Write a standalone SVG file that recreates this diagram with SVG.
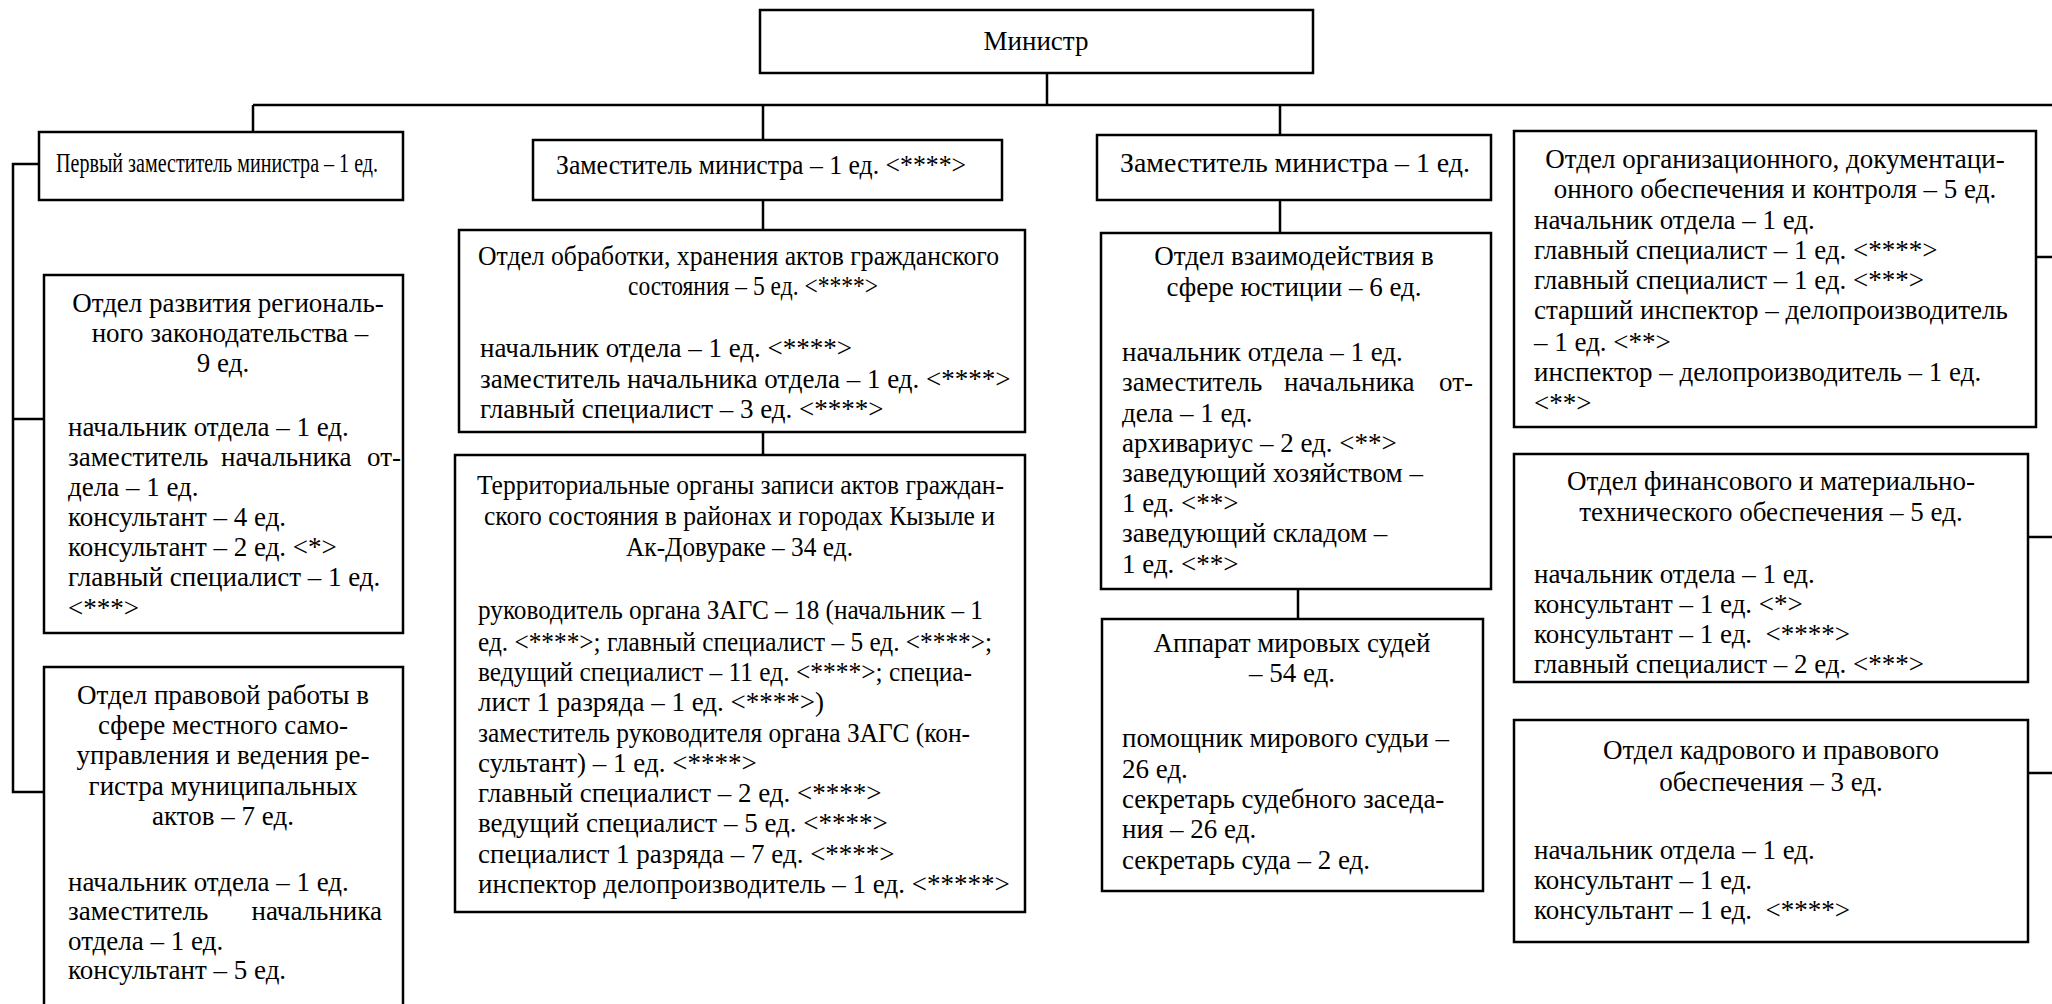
<svg xmlns="http://www.w3.org/2000/svg" width="2052" height="1004" viewBox="0 0 2052 1004">
<style>
.box{fill:#fff;stroke:#000;stroke-width:2.5}
.ln{stroke:#000;stroke-width:2.5;fill:none}
text{font-family:"Liberation Serif","Times New Roman",serif;font-size:27px;fill:#000}
.c{text-anchor:middle}
.e{text-anchor:end}
</style>
<rect width="2052" height="1004" fill="#fff"/>
<g id="connectors">
<path class="ln" d="M1047 73V105M253 105H2052M253 105V132M763 105V140M1280 105V135"/>
<path class="ln" d="M39 164H13V792H44M13 419H44"/>
<path class="ln" d="M763 200V230M763 432V455"/>
<path class="ln" d="M1280 200V233M1298 589V619"/>
<path class="ln" d="M2036 257H2052M2028 537H2052M2028 773H2052"/>
</g>
<g id="minister">
<rect class="box" x="760" y="10" width="553" height="63"/>
<text class="c" x="1036" y="50">Министр</text>
</g>
<g id="first-deputy">
<rect class="box" x="39" y="132" width="364" height="68"/>
<text x="56" y="172" textLength="322" lengthAdjust="spacingAndGlyphs">Первый заместитель министра – 1 ед.</text>
</g>
<g id="deputy-1">
<rect class="box" x="533" y="140" width="469" height="60"/>
<text x="556" y="174" textLength="410" lengthAdjust="spacingAndGlyphs">Заместитель министра – 1 ед. &lt;****&gt;</text>
</g>
<g id="deputy-2">
<rect class="box" x="1097" y="135" width="394" height="65"/>
<text x="1120" y="172" textLength="350" lengthAdjust="spacingAndGlyphs">Заместитель министра – 1 ед.</text>
</g>
<g id="dept-org">
<rect class="box" x="1514" y="131" width="522" height="296"/>
<text class="c" x="1775" y="168">Отдел организационного, документаци-</text>
<text class="c" x="1775" y="198">онного обеспечения и контроля – 5 ед.</text>
<text x="1534" y="229">начальник отдела – 1 ед.</text>
<text x="1534" y="259">главный специалист – 1 ед. &lt;****&gt;</text>
<text x="1534" y="289">главный специалист – 1 ед. &lt;***&gt;</text>
<text x="1534" y="319">старший инспектор – делопроизводитель</text>
<text x="1534" y="351">– 1 ед. &lt;**&gt;</text>
<text x="1534" y="381">инспектор – делопроизводитель – 1 ед.</text>
<text x="1534" y="412">&lt;**&gt;</text>
</g>
<g id="dept-regional">
<rect class="box" x="44" y="275" width="359" height="358"/>
<text class="c" x="228" y="312">Отдел развития региональ-</text>
<text class="c" x="230" y="342">ного законодательства –</text>
<text class="c" x="223" y="372">9 ед.</text>
<text x="68" y="436">начальник отдела – 1 ед.</text>
<text x="68" y="466">заместитель</text>
<text x="221" y="466">начальника</text>
<text class="e" x="401" y="466">от-</text>
<text x="68" y="496">дела – 1 ед.</text>
<text x="68" y="526">консультант – 4 ед.</text>
<text x="68" y="556">консультант – 2 ед. &lt;*&gt;</text>
<text x="68" y="586">главный специалист – 1 ед.</text>
<text x="68" y="617">&lt;***&gt;</text>
</g>
<g id="dept-legal-local">
<rect class="box" x="44" y="667" width="359" height="400"/>
<text class="c" x="223" y="704">Отдел правовой работы в</text>
<text class="c" x="223" y="734">сфере местного само-</text>
<text class="c" x="223" y="764">управления и ведения ре-</text>
<text class="c" x="223" y="795">гистра муниципальных</text>
<text class="c" x="223" y="825">актов – 7 ед.</text>
<text x="68" y="891">начальник отдела – 1 ед.</text>
<text x="68" y="920">заместитель</text>
<text class="e" x="382" y="920">начальника</text>
<text x="68" y="950">отдела – 1 ед.</text>
<text x="68" y="979">консультант – 5 ед.</text>
</g>
<g id="dept-civil-acts">
<rect class="box" x="459" y="230" width="566" height="202"/>
<text x="478" y="265" textLength="521" lengthAdjust="spacingAndGlyphs">Отдел обработки, хранения актов гражданского</text>
<text x="628" y="295" textLength="250" lengthAdjust="spacingAndGlyphs">состояния – 5 ед. &lt;****&gt;</text>
<text x="480" y="357">начальник отдела – 1 ед. &lt;****&gt;</text>
<text x="480" y="388">заместитель начальника отдела – 1 ед. &lt;****&gt;</text>
<text x="480" y="418">главный специалист – 3 ед. &lt;****&gt;</text>
</g>
<g id="territorial-zags">
<rect class="box" x="455" y="455" width="570" height="457"/>
<text x="477" y="494" textLength="527" lengthAdjust="spacingAndGlyphs">Территориальные органы записи актов граждан-</text>
<text x="484" y="525" textLength="511" lengthAdjust="spacingAndGlyphs">ского состояния в районах и городах Кызыле и</text>
<text x="626" y="556" textLength="227" lengthAdjust="spacingAndGlyphs">Ак-Довураке – 34 ед.</text>
<text x="478" y="619" textLength="505" lengthAdjust="spacingAndGlyphs">руководитель органа ЗАГС – 18 (начальник – 1</text>
<text x="478" y="651" textLength="514" lengthAdjust="spacingAndGlyphs">ед. &lt;****&gt;; главный специалист – 5 ед. &lt;****&gt;;</text>
<text x="478" y="681" textLength="494" lengthAdjust="spacingAndGlyphs">ведущий специалист – 11 ед. &lt;****&gt;; специа-</text>
<text x="478" y="711">лист 1 разряда – 1 ед. &lt;****&gt;)</text>
<text x="478" y="742" textLength="492" lengthAdjust="spacingAndGlyphs">заместитель руководителя органа ЗАГС (кон-</text>
<text x="478" y="772">сультант) – 1 ед. &lt;****&gt;</text>
<text x="478" y="802">главный специалист – 2 ед. &lt;****&gt;</text>
<text x="478" y="832">ведущий специалист – 5 ед. &lt;****&gt;</text>
<text x="478" y="863">специалист 1 разряда – 7 ед. &lt;****&gt;</text>
<text x="478" y="893">инспектор делопроизводитель – 1 ед. &lt;*****&gt;</text>
</g>
<g id="dept-justice">
<rect class="box" x="1101" y="233" width="390" height="356"/>
<text class="c" x="1294" y="265">Отдел взаимодействия в</text>
<text class="c" x="1294" y="296">сфере юстиции – 6 ед.</text>
<text x="1122" y="361">начальник отдела – 1 ед.</text>
<text x="1122" y="391">заместитель</text>
<text x="1284" y="391">начальника</text>
<text class="e" x="1473" y="391">от-</text>
<text x="1122" y="422">дела – 1 ед.</text>
<text x="1122" y="452">архивариус – 2 ед. &lt;**&gt;</text>
<text x="1122" y="482">заведующий хозяйством –</text>
<text x="1122" y="512">1 ед. &lt;**&gt;</text>
<text x="1122" y="542">заведующий складом –</text>
<text x="1122" y="573">1 ед. &lt;**&gt;</text>
</g>
<g id="magistrates">
<rect class="box" x="1102" y="619" width="381" height="272"/>
<text class="c" x="1292" y="652">Аппарат мировых судей</text>
<text class="c" x="1292" y="682">– 54 ед.</text>
<text x="1122" y="747">помощник мирового судьи –</text>
<text x="1122" y="778">26 ед.</text>
<text x="1122" y="808">секретарь судебного заседа-</text>
<text x="1122" y="838">ния – 26 ед.</text>
<text x="1122" y="869">секретарь суда – 2 ед.</text>
</g>
<g id="dept-finance">
<rect class="box" x="1514" y="454" width="514" height="228"/>
<text class="c" x="1771" y="490">Отдел финансового и материально-</text>
<text class="c" x="1771" y="521">технического обеспечения – 5 ед.</text>
<text x="1534" y="583">начальник отдела – 1 ед.</text>
<text x="1534" y="613">консультант – 1 ед. &lt;*&gt;</text>
<text x="1534" y="643">консультант – 1 ед.&#160; &lt;****&gt;</text>
<text x="1534" y="673">главный специалист – 2 ед. &lt;***&gt;</text>
</g>
<g id="dept-hr">
<rect class="box" x="1514" y="720" width="514" height="222"/>
<text class="c" x="1771" y="759">Отдел кадрового и правового</text>
<text class="c" x="1771" y="791">обеспечения – 3 ед.</text>
<text x="1534" y="859">начальник отдела – 1 ед.</text>
<text x="1534" y="889">консультант – 1 ед.</text>
<text x="1534" y="919">консультант – 1 ед.&#160; &lt;****&gt;</text>
</g>
</svg>
